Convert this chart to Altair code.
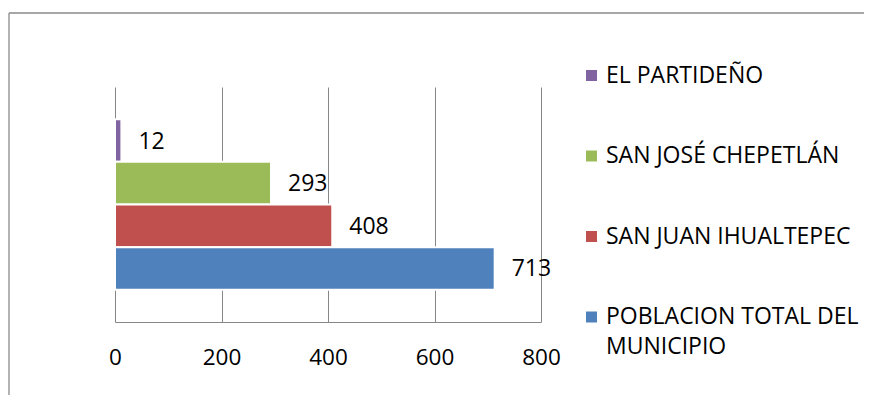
import altair as alt
import pandas as pd

series = ["EL PARTIDEÑO", "SAN JOSÉ CHEPETLÁN", "SAN JUAN IHUALTEPEC", "POBLACION TOTAL DEL MUNICIPIO"]
values = [12, 293, 408, 713]
colors = ["#8064A2", "#9BBB59", "#C0504D", "#4F81BD"]
x_ticks = [0, 200, 400, 600, 800]

df = pd.DataFrame({"serie": series, "valor": values})
FONT = "Open Sans"
GRAY = "#868686"

base = alt.Chart(df)

y_enc = alt.Y("serie:N", sort=series, axis=None,
              scale=alt.Scale(paddingInner=0, paddingOuter=0.755))
x_enc = alt.X("valor:Q",
              scale=alt.Scale(domain=[0, 800], nice=False),
              axis=alt.Axis(values=x_ticks, title=None, ticks=False, labelPadding=24,
                            labelFontSize=22.5, labelFont=FONT, labelColor="black",
                            labelFlush=False, labelOverlap=False,
                            domainColor=GRAY, domainWidth=1,
                            grid=True, gridColor=GRAY, gridWidth=1))

bars = base.mark_bar(stroke="white", strokeWidth=2).encode(
    x=x_enc,
    y=y_enc,
    color=alt.Color("serie:N", sort=series,
                    scale=alt.Scale(domain=series, range=colors),
                    legend=alt.Legend(
                        title=None, orient="none", legendX=465, legendY=-23,
                        symbolType="square", symbolSize=121, symbolStrokeWidth=0,
                        labelFontSize=23, labelFont=FONT, labelColor="black",
                        labelOffset=3, labelLimit=0, rowPadding=56.5, padding=0,
                        labelExpr="datum.label == 'POBLACION TOTAL DEL MUNICIPIO' ? ['POBLACION TOTAL DEL', 'MUNICIPIO'] : datum.label",
                    )),
)

labels = base.mark_text(align="left", baseline="middle", dx=17, dy=1,
                        fontSize=23, font=FONT, color="black").encode(
    x=alt.X("valor:Q"),
    y=alt.Y("serie:N", sort=series),
    text=alt.Text("valor:Q"),
)

frame_df = pd.DataFrame({"a": [0]})
top_line = alt.Chart(frame_df).mark_rule(color="#8a8a8a", strokeWidth=1.3).encode(
    x=alt.value(-106), x2=alt.value(760), y=alt.value(-74))
left_line = alt.Chart(frame_df).mark_rule(color="#8a8a8a", strokeWidth=1.3).encode(
    x=alt.value(-106), y=alt.value(-74), y2=alt.value(320))

chart = alt.layer(bars, labels, top_line, left_line).properties(
    width=426, height=235,
    autosize=alt.AutoSizeParams(type="none"),
    padding={"left": 107, "top": 79, "right": 323, "bottom": 73},
).configure(style={"guide-label": {"lineHeight": 30}}).configure_view(stroke=None)

chart.save("out.html", embed_options={"renderer": "svg", "actions": False})
